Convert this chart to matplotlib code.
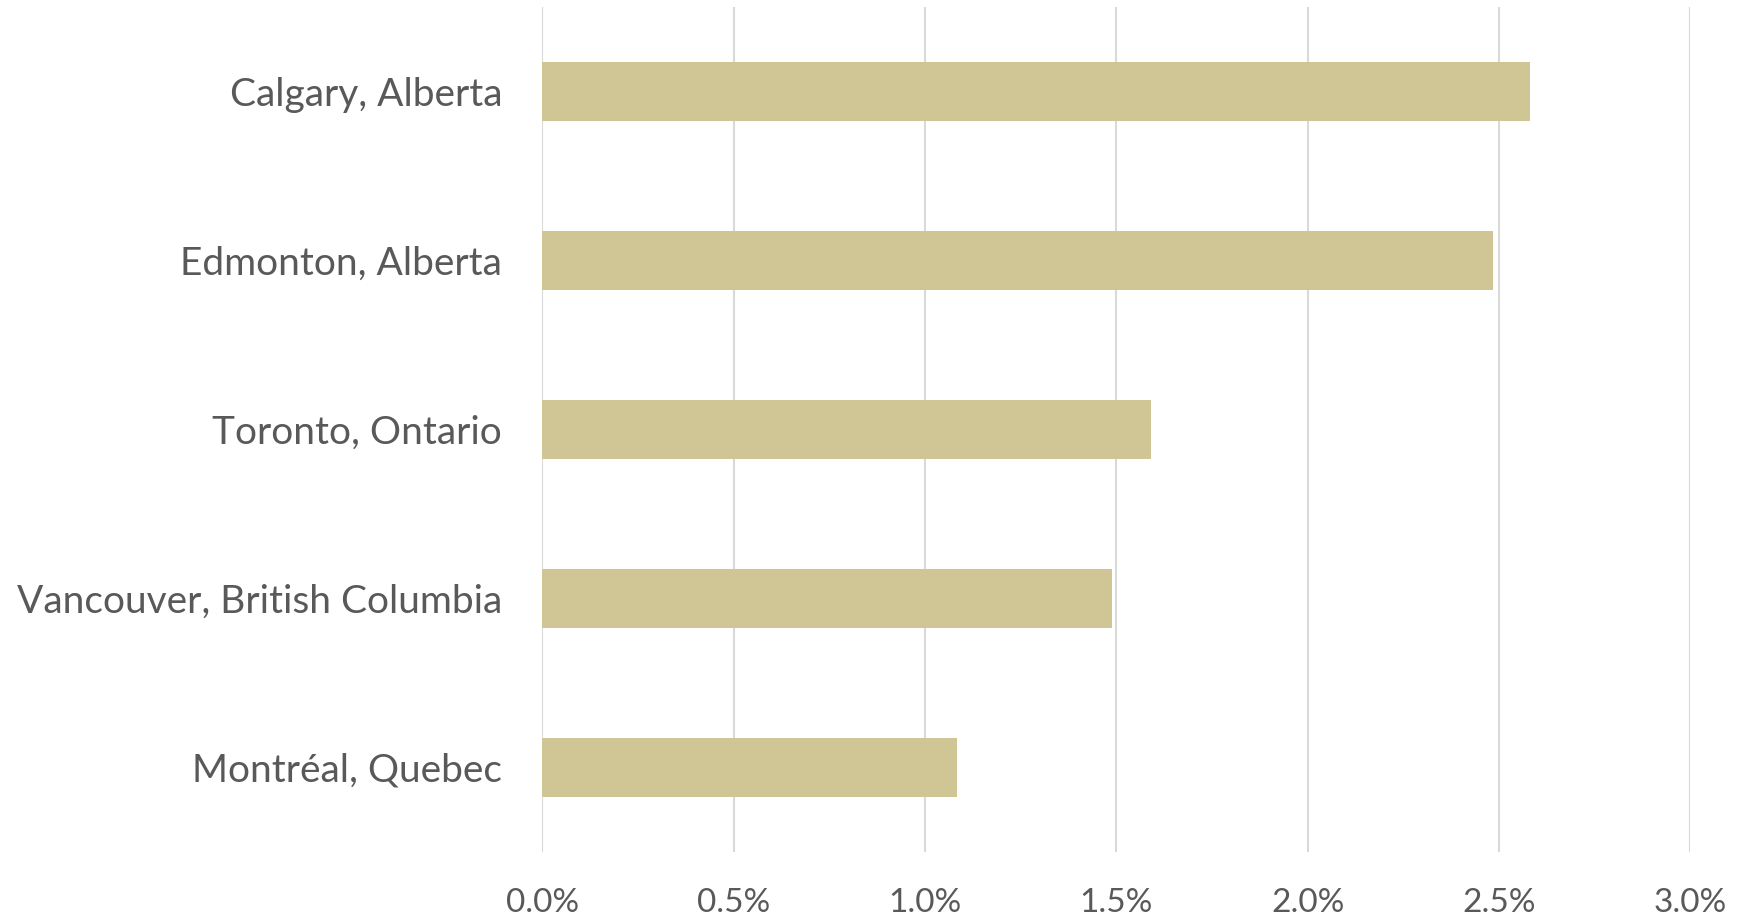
import matplotlib.pyplot as plt
from matplotlib.ticker import FuncFormatter

plt.rcParams['font.family'] = ['Lato', 'DejaVu Sans']

# city growth rates (%), top to bottom
cities = ['Calgary, Alberta', 'Edmonton, Alberta', 'Toronto, Ontario',
          'Vancouver, British Columbia', 'Montréal, Quebec']
growth = [2.58, 2.485, 1.59, 1.49, 1.085]
xticks = [0.0, 0.5, 1.0, 1.5, 2.0, 2.5, 3.0]

fig = plt.figure(figsize=(17.46, 9.17), dpi=100)
ax = fig.add_axes([0.3106, 0.0711, 0.9681 - 0.3106, 0.9921 - 0.0711])

ypos = list(range(len(cities)))
ax.barh(ypos, growth, height=0.35, color='#CFC595', zorder=2)
ax.set_yticks(ypos)
ax.set_yticklabels(cities)
ax.set_ylim(len(cities) - 0.5, -0.5)

ax.set_xlim(0, 3.0)
ax.set_xticks(xticks)
ax.xaxis.set_major_formatter(FuncFormatter(lambda v, p: f'{v:.1f}%'))
ax.grid(axis='x', color='#D9D9D9', linewidth=1.5, zorder=0)

for s in ax.spines.values():
    s.set_visible(False)
ax.tick_params(axis='both', length=0, labelcolor='#595959')
ax.tick_params(axis='y', pad=29, labelsize=28)
ax.tick_params(axis='x', pad=26, labelsize=24)

fig.savefig('out.png', dpi=100)
